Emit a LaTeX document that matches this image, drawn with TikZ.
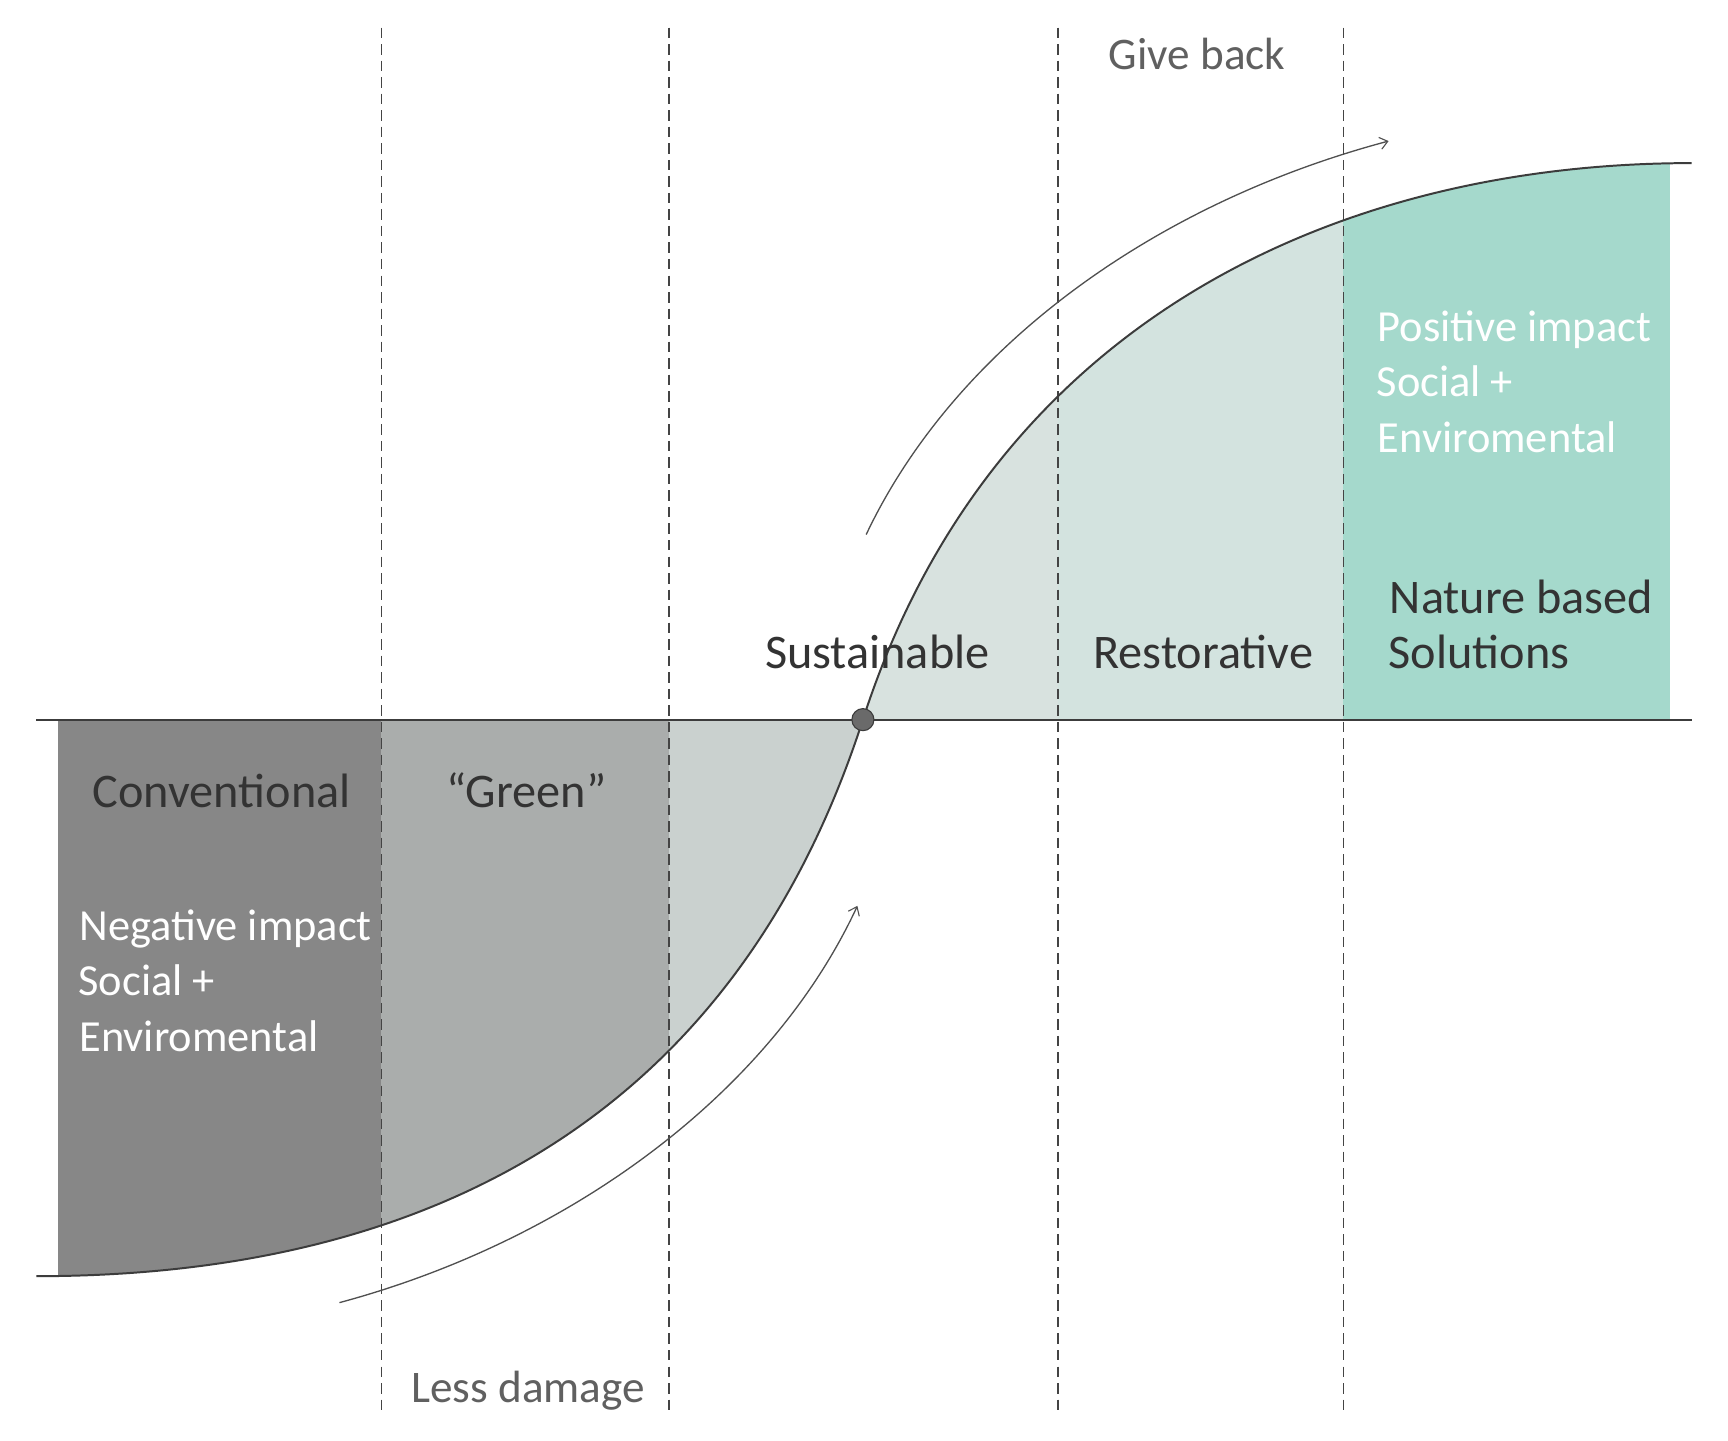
\documentclass[tikz,border=0pt]{standalone}
\usepackage{fontspec}
\setmainfont{Carlito}
\usetikzlibrary{arrows.meta}
\definecolor{linec}{HTML}{3C3C3C}
\definecolor{dashc}{HTML}{444444}
\definecolor{arrc}{HTML}{505050}
\definecolor{darkfill}{HTML}{878787}
\definecolor{midfill}{HTML}{AAADAC}
\definecolor{lightfill}{HTML}{CAD1CF}
\definecolor{palefill}{HTML}{D8E2DF}
\definecolor{palegreen}{HTML}{D3E3DF}
\definecolor{tealfill}{HTML}{A5D9CC}
\definecolor{dotc}{HTML}{6A6A6A}
\definecolor{txtdark}{HTML}{333333}
\definecolor{txtgray}{HTML}{606060}
\tikzset{
  divider/.style={draw=dashc, line width=1.1pt, dash pattern=on 9.5pt off 5.5pt},
  mainline/.style={draw=linec, line width=1.8pt},
  flow/.style={draw=arrc, line width=1.2pt, -{Straight Barb[length=7pt,width=11pt,line width=1pt]}},
  biglabel/.style={anchor=base west, inner sep=0, text=txtdark, font=\fontsize{43.8}{52}\selectfont},
  whitelabel/.style={anchor=base west, inner sep=0, text=white, font=\fontsize{40.3}{50}\selectfont},
  graylabel/.style={anchor=base west, inner sep=0, text=txtgray, font=\fontsize{41}{50}\selectfont}
}
\begin{document}
\begin{tikzpicture}[x=1pt,y=-1pt]
\useasboundingbox (0,0) rectangle (1568,1307);
\fill[white] (0,0) rectangle (1568,1307);

% lower fills
\begin{scope}
\clip (783,653) .. controls (670,1003) and (402,1158) .. (33,1158) -- (33,653) -- cycle;
\fill[darkfill] (53,640) rectangle (346,1170);
\fill[midfill] (346,640) rectangle (607,1170);
\fill[lightfill] (607,640) rectangle (790,1170);
\end{scope}
% upper fills
\begin{scope}
\clip (783,653) .. controls (900,290) and (1215,148) .. (1535,148) -- (1535,653) -- cycle;
\fill[palefill] (775,140) rectangle (960,660);
\fill[palegreen] (960,140) rectangle (1219,660);
\fill[tealfill] (1219,140) rectangle (1515,660);
\end{scope}

% dividers
\coordinate (d1t) at (346,25);  \coordinate (d1b) at (346,1280);
\coordinate (d2t) at (607,25);  \coordinate (d2b) at (607,1280);
\coordinate (d3t) at (960,25);  \coordinate (d3b) at (960,1280);
\coordinate (d4t) at (1219,25); \coordinate (d4b) at (1219,1280);
\draw[divider] (d1t) -- (d1b);
\draw[divider] (d2t) -- (d2b);
\draw[divider] (d3t) -- (d3b);
\draw[divider] (d4t) -- (d4b);

% axis and curve
\coordinate (axl) at (33,653);
\coordinate (axr) at (1535,653);
\coordinate (cl) at (33,1158);
\coordinate (cr) at (1535,148);
\coordinate (mid) at (783,653);
\draw[mainline] (axl) -- (axr);
\draw[mainline] (cl) .. controls (402,1158) and (670,1003) .. (mid) .. controls (900,290) and (1215,148) .. (cr);
\node[circle, fill=dotc, draw=linec, line width=1pt, minimum size=20pt, inner sep=0] (sus) at (mid) {};

% flow arrows
\coordinate (a1s) at (308,1182);
\coordinate (a1e) at (778,822);
\coordinate (a2s) at (786,485);
\coordinate (a2e) at (1260,128);
\draw[flow] (a1s) .. controls (520,1125) and (700,990) .. (a1e);
\draw[flow] (a2s) .. controls (866,316) and (1046,185) .. (a2e);

% labels
\node[graylabel] (give) at (1006,63) {Give back};
\node[graylabel] (less) at (373,1273) {Less damage};
\node[biglabel] (conv) at (84,733) {Conventional};
\node[biglabel] (green) at (405,733) {“Green”};
\node[biglabel] (sust) at (694,607) {Sustainable};
\node[biglabel] (rest) at (992,607) {Restorative};
\node[biglabel] (nat1) at (1261,557) {Nature based};
\node[biglabel] (nat2) at (1260,607) {Solutions};
\node[whitelabel] (neg1) at (72,853) {Negative impact};
\node[whitelabel] (neg2) at (71,903) {Social +};
\node[whitelabel] (neg3) at (72,954) {Enviromental};
\node[whitelabel] (pos1) at (1250,310) {Positive impact};
\node[whitelabel] (pos2) at (1249,360) {Social +};
\node[whitelabel] (pos3) at (1250,411) {Enviromental};
\end{tikzpicture}
\end{document}
